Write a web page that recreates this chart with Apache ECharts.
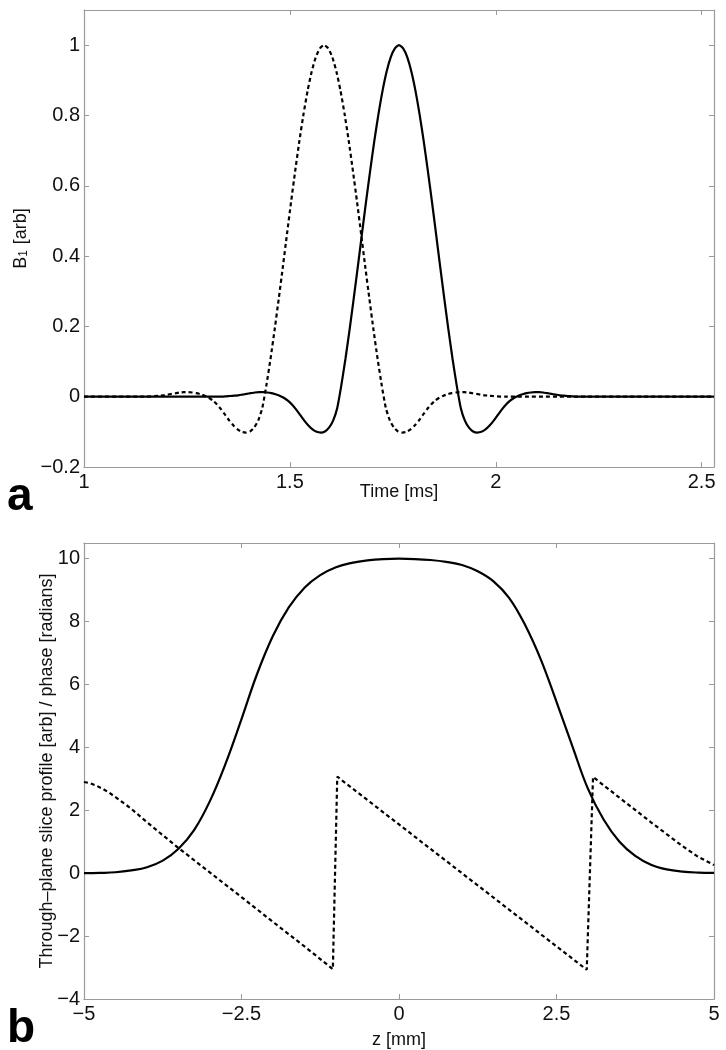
<!DOCTYPE html>
<html>
<head>
<meta charset="utf-8">
<script src="https://cdn.jsdelivr.net/npm/echarts@6/dist/echarts.min.js"></script>
<style>
html,body{margin:0;padding:0;background:#fff;}
#chart{width:726px;height:1050px;}
</style>
</head>
<body>
<div id="chart"></div>
<script>
// ---------- Panel a: RF pulses B1 vs time ----------
const timeSolid = [1.000,
1.325,1.335,1.345,1.355,1.365,1.375,1.385,1.395,1.405,1.415,1.425,1.435,1.445,1.455,1.465,1.475,1.485,1.495,1.505,1.515,
1.525,1.535,1.545,1.555,1.565,1.575,1.585,1.595,1.605,1.615,1.625,1.635,1.645,1.655,1.665,1.675,1.685,1.695,1.705,1.715,
1.725,1.735,1.745,1.755,1.765,1.775,1.785,1.795,1.805,1.815,1.825,1.835,1.845,1.855,1.865,1.875,1.885,1.895,1.905,1.915,
1.925,1.935,1.945,1.955,1.965,1.975,1.985,1.995,2.005,2.015,2.025,2.035,2.045,2.055,2.065,2.075,2.085,2.095,2.105,2.115,
2.125,2.135,2.145,2.155,2.165,2.175,2.185,2.195,2.205,
2.530];
const b1Solid = [0,
0.000,0.000,0.001,0.002,0.003,0.004,0.006,0.008,0.010,0.012,0.013,0.013,0.012,0.010,0.007,0.003,-0.003,-0.011,-0.022,-0.036,
-0.052,-0.068,-0.082,-0.093,-0.100,-0.102,-0.099,-0.088,-0.068,-0.032,0.033,0.108,0.191,0.279,0.370,0.463,0.555,0.643,0.727,0.803,
0.870,0.925,0.966,0.991,1.000,0.991,0.966,0.925,0.870,0.803,0.727,0.643,0.555,0.463,0.370,0.279,0.191,0.108,0.033,-0.032,
-0.068,-0.088,-0.099,-0.102,-0.100,-0.093,-0.082,-0.068,-0.052,-0.036,-0.022,-0.011,-0.003,0.003,0.007,0.010,0.012,0.013,0.013,0.012,
0.010,0.008,0.006,0.004,0.003,0.002,0.001,0.000,0.000,
0];
const timeDashed = [1.000,
1.143,1.153,1.163,1.173,1.183,1.193,1.203,1.213,1.223,1.233,1.243,1.253,1.263,1.273,1.283,1.293,1.303,1.313,1.323,1.333,
1.343,1.353,1.363,1.373,1.383,1.393,1.403,1.413,1.423,1.433,1.443,1.453,1.463,1.473,1.483,1.493,1.503,1.513,1.523,1.533,
1.543,1.553,1.563,1.573,1.583,1.593,1.603,1.613,1.623,1.633,1.643,1.653,1.663,1.673,1.683,1.693,1.703,1.713,1.723,1.733,
1.743,1.753,1.763,1.773,1.783,1.793,1.803,1.813,1.823,1.833,1.843,1.853,1.863,1.873,1.883,1.893,1.903,1.913,1.923,1.933,
1.943,1.953,1.963,1.973,1.983,1.993,2.003,2.013,2.023,
2.530];
const b1Dashed = [0,
0.000,0.000,0.001,0.002,0.003,0.004,0.006,0.008,0.010,0.012,0.013,0.013,0.012,0.010,0.007,0.003,-0.003,-0.011,-0.022,-0.036,
-0.052,-0.068,-0.082,-0.093,-0.100,-0.102,-0.099,-0.088,-0.068,-0.032,0.033,0.108,0.191,0.279,0.370,0.463,0.555,0.643,0.727,0.803,
0.870,0.925,0.966,0.991,1.000,0.991,0.966,0.925,0.870,0.803,0.727,0.643,0.555,0.463,0.370,0.279,0.191,0.108,0.033,-0.032,
-0.068,-0.088,-0.099,-0.102,-0.100,-0.093,-0.082,-0.068,-0.052,-0.036,-0.022,-0.011,-0.003,0.003,0.007,0.010,0.012,0.013,0.013,0.012,
0.010,0.008,0.006,0.004,0.003,0.002,0.001,0.000,0.000,
0];

// ---------- Panel b: slice profile and phase vs z ----------
const zProfile = [-5,-4.75,-4.5,-4.25,-4,-3.75,-3.5,-3.25,-3,-2.75,-2.5,-2.25,-2,-1.75,-1.5,-1.25,-1,-0.75,-0.5,-0.25,
0,0.25,0.5,0.75,1,1.25,1.5,1.75,2,2.25,2.5,2.75,3,3.25,3.5,3.75,4,4.25,4.5,4.75,5];
const profile = [0.00,0.01,0.03,0.09,0.19,0.40,0.78,1.38,2.30,3.50,4.90,6.35,7.55,8.45,9.08,9.48,9.73,9.87,9.95,9.99,
10.0,9.99,9.96,9.90,9.80,9.60,9.28,8.75,7.90,6.80,5.45,4.05,2.68,1.70,1.00,0.55,0.27,0.12,0.05,0.02,0.01];
const zPhase = [-5,-4.9,-4.8,-4.7,-4.6,-4.5,-4.25,-4,-3.5,-3,-2.5,-2,-1.5,-1.05,
-0.98,0,1,2,2.98,
3.08,3.5,4,4.5,4.75,5];
const phase = [2.90,2.86,2.78,2.68,2.56,2.42,2.05,1.62,0.80,0.02,-0.76,-1.55,-2.33,-3.05,
3.07,1.55,0.00,-1.55,-3.07,
3.06,2.40,1.62,0.86,0.52,0.26];

// ---------- Tick labels ----------
const topXTicks = [1, 1.5, 2, 2.5];
const topYTicks = [-0.2, 0, 0.2, 0.4, 0.6, 0.8, 1];
const botXTicks = [-5, -2.5, 0, 2.5, 5];
const botYTicks = [-4, -2, 0, 2, 4, 6, 8, 10];

const FONT = "'Liberation Sans', Arial, Helvetica, sans-serif";
const AX = '#9a9a9a';
function fmt(list){
  return function(v){
    for (const t of list){ if (Math.abs(t - v) < 1e-9) return String(t).replace('-', '\u2212'); }
    return '';
  };
}
function pairs(xs, ys){ return xs.map((x,i)=>[x, ys[i]]); }

function mkX(gridIndex, min, max, interval, ticks, showLabels, pos, name, nameGap){
  return {
    type:'value', gridIndex, min, max, interval, position:pos,
    name: name || '', nameLocation:'middle', nameGap: nameGap || 0, nameMoveOverlap:false,
    nameTextStyle:{fontFamily:FONT, fontSize:18, color:'#111'},
    axisLine:{show:true, onZero:false, lineStyle:{color:AX, width:1.2}},
    axisTick:{show:true, inside:true, length:5, lineStyle:{color:AX, width:1}},
    axisLabel:{show:showLabels, formatter:fmt(ticks), fontFamily:FONT, fontSize:20, color:'#111', margin:5, showMaxLabel:true, hideOverlap:false},
    splitLine:{show:false}
  };
}
function mkY(gridIndex, min, max, interval, ticks, showLabels, pos, name, nameGap){
  return {
    type:'value', gridIndex, min, max, interval, position:pos,
    name: name || '', nameLocation:'middle', nameGap: nameGap || 0, nameRotate:90, nameMoveOverlap:false,
    nameTextStyle:{fontFamily:FONT, fontSize:18, color:'#111',
      rich:{b:{fontFamily:FONT, fontSize:18, color:'#111'}, s:{fontFamily:FONT, fontSize:12, color:'#111', verticalAlign:'bottom', padding:[0,1,0,0]}}},
    axisLine:{show:true, onZero:false, lineStyle:{color:AX, width:1.2}},
    axisTick:{show:true, inside:true, length:5, lineStyle:{color:AX, width:1}},
    axisLabel:{show:showLabels, formatter:fmt(ticks), fontFamily:FONT, fontSize:20, color:'#111', margin:4, hideOverlap:false},
    splitLine:{show:false}
  };
}

const chart = echarts.init(document.getElementById('chart'), null, {renderer:'canvas'});
const solidStyle = {color:'#000', width:2.2};
const dashStyle = {color:'#000', width:2.2, type:[4,3]};

chart.setOption({
  animation:false,
  backgroundColor:'#fff',
  grid:[
    {left:84, top:10, width:630, height:457},
    {left:84, top:543, width:630, height:456}
  ],
  xAxis:[
    mkX(0, 1, 2.53, 0.5, topXTicks, true, 'bottom', 'Time [ms]', 16),
    mkX(0, 1, 2.53, 0.5, topXTicks, false, 'top'),
    mkX(1, -5, 5, 2.5, botXTicks, true, 'bottom', 'z [mm]', 32),
    mkX(1, -5, 5, 2.5, botXTicks, false, 'top')
  ],
  yAxis:[
    mkY(0, -0.2, 1.1, 0.2, topYTicks, true, 'left', '{b|B}{s|1}{b| [arb]}', 54),
    mkY(0, -0.2, 1.1, 0.2, topYTicks, false, 'right'),
    mkY(1, -4, 10.5, 2, botYTicks, true, 'left', 'Through\u2013plane slice profile [arb] / phase [radians]', 28),
    mkY(1, -4, 10.5, 2, botYTicks, false, 'right')
  ],
  series:[
    {type:'line', xAxisIndex:0, yAxisIndex:0, data:pairs(timeDashed, b1Dashed), showSymbol:false, symbol:'none', lineStyle:dashStyle, smooth:0.2},
    {type:'line', xAxisIndex:0, yAxisIndex:0, data:pairs(timeSolid, b1Solid), showSymbol:false, symbol:'none', lineStyle:solidStyle, smooth:0.2},
    {type:'line', xAxisIndex:2, yAxisIndex:2, data:pairs(zPhase, phase), showSymbol:false, symbol:'none', lineStyle:dashStyle},
    {type:'line', xAxisIndex:2, yAxisIndex:2, data:pairs(zProfile, profile), showSymbol:false, symbol:'none', lineStyle:solidStyle, smooth:0.4}
  ],
  graphic:[
    {type:'text', left:7, top:474, style:{text:'a', font:'bold 46px ' + FONT, fill:'#000'}},
    {type:'text', left:7, top:1006, style:{text:'b', font:'bold 46px ' + FONT, fill:'#000'}}
  ]
});
</script>
</body>
</html>
